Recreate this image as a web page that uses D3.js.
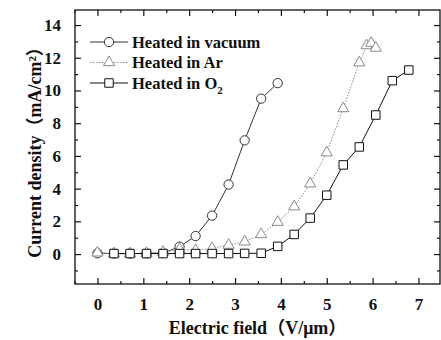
<!DOCTYPE html>
<html>
<head>
<meta charset="utf-8">
<script src="https://cdn.jsdelivr.net/npm/d3@7"></script>
<style>
  body { margin: 0; background: #fff; }
  svg text { font-family: "Liberation Serif", "Times New Roman", "Noto Sans CJK SC", serif; font-weight: bold; fill: #111; }
  .domain { display: none; }
</style>
</head>
<body>
<div id="chart"></div>
<script>
// field values (V/um) and current densities (mA/cm2)
const vacuumX = [0, 0.36, 0.71, 1.07, 1.43, 1.79, 2.14, 2.5, 2.86, 3.21, 3.57, 3.93];
const vacuumY = [0.05, 0.03, 0.03, 0.04, 0.06, 0.45, 1.1, 2.35, 4.25, 6.95, 9.5, 10.45];

const arX = [0, 0.36, 0.71, 1.07, 1.43, 1.79, 2.14, 2.5, 2.86, 3.21, 3.57, 3.93, 4.29, 4.64, 5.0, 5.36, 5.71, 5.87, 5.97, 6.07];
const arY = [0.08, 0.03, 0.03, 0.05, 0.12, 0.3, 0.22, 0.35, 0.55, 0.75, 1.2, 1.95, 2.9, 4.3, 6.2, 8.9, 11.7, 12.75, 12.9, 12.6];

const o2X = [0.36, 0.71, 1.07, 1.43, 1.79, 2.14, 2.5, 2.86, 3.21, 3.57, 3.93, 4.29, 4.64, 5.0, 5.36, 5.71, 6.07, 6.43, 6.79];
const o2Y = [0.03, 0.03, 0.03, 0.03, 0.03, 0.03, 0.03, 0.03, 0.04, 0.05, 0.47, 1.2, 2.2, 3.6, 5.45, 6.55, 8.5, 10.6, 11.25];

const seriesNames = ["Heated in vacuum", "Heated in Ar", "Heated in O"];
const xTicks = [0, 1, 2, 3, 4, 5, 6, 7];
const yTicks = [0, 2, 4, 6, 8, 10, 12, 14];

const width = 441, height = 340;
const mLeft = 75, mRight = 440, mTop = 10, mBottom = 284;

const x = d3.scaleLinear().domain([-0.49, 7.47]).range([mLeft, mRight]);
const y = d3.scaleLinear().domain([-1.83, 14.92]).range([mBottom, mTop]);

const svg = d3.select("#chart").append("svg")
    .attr("width", width)
    .attr("height", height);

// frame
svg.append("rect")
    .attr("x", mLeft).attr("y", mTop)
    .attr("width", mRight - mLeft).attr("height", mBottom - mTop)
    .attr("fill", "none").attr("stroke", "#111").attr("stroke-width", 1.3);

const xMinor = d3.range(-0.5, 7.6, 0.5).filter(v => v % 1 !== 0);
const yMinor = d3.range(-1, 15, 2);

function addAxis(axis, tx, ty, labels) {
    const g = svg.append("g")
        .attr("transform", `translate(${tx},${ty})`)
        .call(axis);
    g.selectAll("line").attr("stroke", "#111").attr("stroke-width", 1.2);
    if (!labels) g.selectAll("text").remove();
    return g;
}

// bottom
addAxis(d3.axisBottom(x).tickValues(xTicks).tickSize(-6).tickPadding(14).tickFormat(d3.format("d")), 0, mBottom, true)
    .selectAll("text").attr("font-size", 17);
addAxis(d3.axisBottom(x).tickValues(xMinor).tickSize(-3), 0, mBottom, false);
// top
addAxis(d3.axisTop(x).tickValues(xTicks).tickSize(-6), 0, mTop, false);
addAxis(d3.axisTop(x).tickValues(xMinor).tickSize(-3), 0, mTop, false);
// left
addAxis(d3.axisLeft(y).tickValues(yTicks).tickSize(-6).tickPadding(14).tickFormat(d3.format("d")), mLeft, 0, true)
    .selectAll("text").attr("font-size", 17);
addAxis(d3.axisLeft(y).tickValues(yMinor).tickSize(-3), mLeft, 0, false);
// right
addAxis(d3.axisRight(y).tickValues(yTicks).tickSize(-6), mRight, 0, false);
addAxis(d3.axisRight(y).tickValues(yMinor).tickSize(-3), mRight, 0, false);

// axis titles
svg.append("text")
    .attr("x", (mLeft + mRight) / 2 + 0)
    .attr("y", 334)
    .attr("text-anchor", "middle")
    .attr("font-size", 18)
    .text("Electric field\uff08V/\u03bcm\uff09");

svg.append("text")
    .attr("transform", `translate(41,${(mTop + mBottom) / 2 + 1}) rotate(-90)`)
    .attr("text-anchor", "middle")
    .attr("font-size", 18)
    .text("Current density\uff08mA/cm\u00b2\uff09");

const line = d3.line().x(d => x(d[0])).y(d => y(d[1]));

const series = [
    { name: seriesNames[0], pts: d3.zip(vacuumX, vacuumY), color: "#333", dash: null, marker: "circle" },
    { name: seriesNames[1], pts: d3.zip(arX, arY), color: "#8a8a8a", dash: "1.5,1.5", marker: "triangle" },
    { name: seriesNames[2], pts: d3.zip(o2X, o2Y), color: "#111", dash: null, marker: "square" }
];

const symbols = {
    circle: d3.symbol().type(d3.symbolCircle).size(68),
    triangle: d3.symbol().type(d3.symbolTriangle).size(54),
    square: d3.symbol().type(d3.symbolSquare).size(72)
};

series.forEach(s => {
    svg.append("path")
        .datum(s.pts)
        .attr("d", line)
        .attr("fill", "none")
        .attr("stroke", s.color)
        .attr("stroke-width", 1)
        .attr("stroke-dasharray", s.dash);

    svg.selectAll(null)
        .data(s.pts)
        .enter()
        .append("path")
        .attr("transform", d => `translate(${x(d[0])},${y(d[1])})`)
        .attr("d", symbols[s.marker])
        .attr("fill", "#fff")
        .attr("stroke", s.color)
        .attr("stroke-width", 1);
});

// legend
const legend = svg.append("g");
series.forEach((s, i) => {
    const ly = 42 + i * 20.5;
    legend.append("line")
        .attr("x1", 90).attr("x2", 128)
        .attr("y1", ly).attr("y2", ly)
        .attr("stroke", s.color).attr("stroke-width", 1)
        .attr("stroke-dasharray", s.dash);
    legend.append("path")
        .attr("transform", `translate(109,${ly})`)
        .attr("d", symbols[s.marker])
        .attr("fill", "#fff")
        .attr("stroke", s.color);
    const t = legend.append("text")
        .attr("x", 132).attr("y", ly + 5.5)
        .attr("font-size", 16.5)
        .text(s.name);
    if (i === 2) {
        t.append("tspan").attr("font-size", 11).attr("dy", 5).text("2");
    }
});
</script>
</body>
</html>
